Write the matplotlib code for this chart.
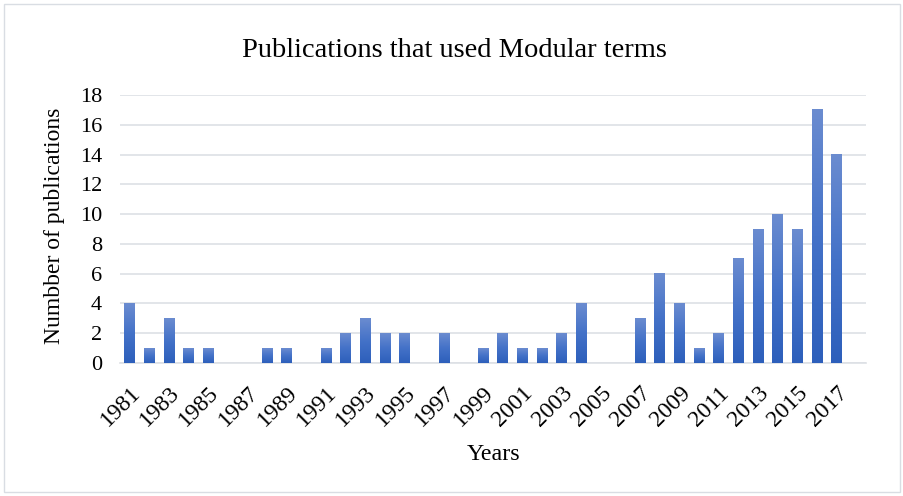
import numpy as np
import matplotlib.pyplot as plt
from matplotlib.patches import Rectangle
from matplotlib.colors import LinearSegmentedColormap

plt.rcParams['font.family'] = ['Liberation Serif', 'DejaVu Serif']

years = list(range(1981, 2018))
counts = [4, 1, 3, 1, 1, 0, 0, 1, 1, 0, 1, 2, 3, 2, 2, 0, 2, 0, 1, 2,
          1, 1, 2, 4, 0, 0, 3, 6, 4, 1, 2, 7, 9, 10, 9, 17, 14]
yticks = list(range(0, 19, 2))

W, H = 904, 496
fig = plt.figure(figsize=(W / 100, H / 100), dpi=100)
ax = fig.add_axes([120 / W, 1 - 363 / H, 746 / W, 268 / H])

# border round the whole chart
fig.patches.append(Rectangle((4 / W, 4 / H), 896 / W, 488 / H,
                             transform=fig.transFigure, fill=False,
                             edgecolor='#d9dde3', linewidth=1))

x = np.arange(len(years))
bars = ax.bar(x, counts, width=0.55, color='none', zorder=3)

grad = LinearSegmentedColormap.from_list('g', ['#2d5fbb', '#4472c8', '#6b8cd0'])
img = np.linspace(0, 1, 256).reshape(-1, 1)
for b in bars:
    h = b.get_height()
    if h <= 0:
        continue
    x0 = b.get_x()
    ax.imshow(img, cmap=grad, origin='lower', aspect='auto', zorder=3,
              extent=[x0, x0 + b.get_width(), 0, h], interpolation='bilinear')

ax.set_xlim(-0.5, len(years) + 0.5)
ax.set_ylim(0, 18)
ax.set_yticks(yticks)
ax.yaxis.grid(True, color='#dde0e5', linewidth=1.2, zorder=0)
ax.set_axisbelow(True)

ax.set_xticks(x[::2])
ax.set_xticklabels([str(y) for y in years[::2]], rotation=45, ha='right',
                   rotation_mode='anchor', fontsize=17)
ax.tick_params(axis='x', length=0, pad=14)
ax.tick_params(axis='y', length=0, labelsize=16, pad=13)

for s in ['top', 'right', 'left']:
    ax.spines[s].set_visible(False)
ax.spines['bottom'].set_color('#dde0e5')
ax.spines['bottom'].set_linewidth(1.2)

fig.text(454.5 / W, 1 - 57 / H, 'Publications that used Modular terms',
         fontsize=20.5, ha='center', va='baseline')
fig.text(55 / W, 1 - 226 / H, 'Numbber of publications', fontsize=17,
         rotation=90, ha='center', va='center')
fig.text(494 / W, 1 - 460 / H, 'Years', fontsize=17.3, ha='center',
         va='baseline')

fig.savefig('out.png', dpi=100)
